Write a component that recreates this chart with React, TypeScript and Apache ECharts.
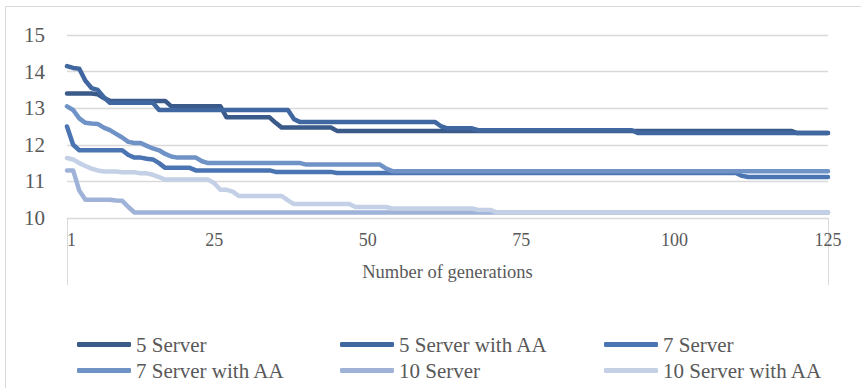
import React, { useEffect, useRef } from "react";
import * as echarts from "echarts";

const categories: string[] = Array.from({ length: 125 }, (_, i) => String(i + 1));
const xTickLabels = ["1", "25", "50", "75", "100", "125"];
const seriesNames = ["5 Server", "5 Server with AA", "7 Server", "7 Server with AA", "10 Server", "10 Server with AA"];
const colors = ["#3a5a89", "#4167a0", "#4a75b2", "#7093c7", "#9fb3d8", "#c3d0e6"];

const s5 = [
  13.4, 13.4, 13.4, 13.4, 13.4, 13.38, 13.28, 13.2, 13.2, 13.2, 13.2, 13.2, 13.2, 13.2, 13.2, 13.2, 13.2, 13.05, 13.05, 13.05, 13.05, 13.05, 13.05, 13.05, 13.05,
  13.05, 12.75, 12.75, 12.75, 12.75, 12.75, 12.75, 12.75, 12.75, 12.6, 12.47, 12.47, 12.47, 12.47, 12.47, 12.47, 12.47, 12.47, 12.47, 12.38, 12.38, 12.38, 12.38, 12.38, 12.38,
  12.38, 12.38, 12.38, 12.38, 12.38, 12.38, 12.38, 12.38, 12.38, 12.38, 12.38, 12.38, 12.38, 12.38, 12.38, 12.38, 12.38, 12.38, 12.38, 12.38, 12.38, 12.38, 12.38, 12.38, 12.38,
  12.38, 12.38, 12.38, 12.38, 12.38, 12.38, 12.38, 12.38, 12.38, 12.38, 12.38, 12.38, 12.38, 12.38, 12.38, 12.38, 12.38, 12.38, 12.38, 12.38, 12.38, 12.38, 12.38, 12.38, 12.38,
  12.38, 12.38, 12.38, 12.38, 12.38, 12.38, 12.38, 12.38, 12.38, 12.38, 12.38, 12.38, 12.38, 12.38, 12.38, 12.38, 12.38, 12.38, 12.38, 12.32, 12.32, 12.32, 12.32, 12.32, 12.32,
];

const s5aa = [
  14.15, 14.1, 14.08, 13.75, 13.55, 13.5, 13.3, 13.15, 13.15, 13.15, 13.15, 13.15, 13.15, 13.15, 13.15, 12.95, 12.95, 12.95, 12.95, 12.95, 12.95, 12.95, 12.95, 12.95, 12.95,
  12.95, 12.95, 12.95, 12.95, 12.95, 12.95, 12.95, 12.95, 12.95, 12.95, 12.95, 12.95, 12.7, 12.62, 12.62, 12.62, 12.62, 12.62, 12.62, 12.62, 12.62, 12.62, 12.62, 12.62, 12.62,
  12.62, 12.62, 12.62, 12.62, 12.62, 12.62, 12.62, 12.62, 12.62, 12.62, 12.62, 12.5, 12.45, 12.45, 12.45, 12.45, 12.45, 12.4, 12.4, 12.4, 12.4, 12.4, 12.4, 12.4, 12.4,
  12.4, 12.4, 12.4, 12.4, 12.4, 12.4, 12.4, 12.4, 12.4, 12.4, 12.4, 12.4, 12.4, 12.4, 12.4, 12.4, 12.4, 12.4, 12.32, 12.32, 12.32, 12.32, 12.32, 12.32, 12.32,
  12.32, 12.32, 12.32, 12.32, 12.32, 12.32, 12.32, 12.32, 12.32, 12.32, 12.32, 12.32, 12.32, 12.32, 12.32, 12.32, 12.32, 12.32, 12.32, 12.32, 12.32, 12.32, 12.32, 12.32, 12.32,
];

const s7 = [
  12.5, 12.0, 11.85, 11.85, 11.85, 11.85, 11.85, 11.85, 11.85, 11.85, 11.72, 11.65, 11.65, 11.62, 11.6, 11.5, 11.37, 11.37, 11.37, 11.37, 11.37, 11.3, 11.3, 11.3, 11.3,
  11.3, 11.3, 11.3, 11.3, 11.3, 11.3, 11.3, 11.3, 11.3, 11.26, 11.26, 11.26, 11.26, 11.26, 11.26, 11.26, 11.26, 11.26, 11.26, 11.23, 11.23, 11.23, 11.23, 11.23, 11.23,
  11.23, 11.23, 11.23, 11.23, 11.23, 11.23, 11.23, 11.23, 11.23, 11.23, 11.23, 11.23, 11.23, 11.23, 11.23, 11.23, 11.23, 11.23, 11.23, 11.23, 11.23, 11.23, 11.23, 11.23, 11.23,
  11.23, 11.23, 11.23, 11.23, 11.23, 11.23, 11.23, 11.23, 11.23, 11.23, 11.23, 11.23, 11.23, 11.23, 11.23, 11.23, 11.23, 11.23, 11.23, 11.23, 11.23, 11.23, 11.23, 11.23, 11.23,
  11.23, 11.23, 11.23, 11.23, 11.23, 11.23, 11.23, 11.23, 11.23, 11.23, 11.15, 11.12, 11.12, 11.12, 11.12, 11.12, 11.12, 11.12, 11.12, 11.12, 11.12, 11.12, 11.12, 11.12, 11.12,
];

const s7aa = [
  13.05, 12.95, 12.72, 12.6, 12.58, 12.57, 12.47, 12.4, 12.3, 12.2, 12.08, 12.05, 12.05, 11.97, 11.9, 11.85, 11.75, 11.68, 11.65, 11.65, 11.65, 11.65, 11.55, 11.5, 11.5,
  11.5, 11.5, 11.5, 11.5, 11.5, 11.5, 11.5, 11.5, 11.5, 11.5, 11.5, 11.5, 11.5, 11.5, 11.46, 11.46, 11.46, 11.46, 11.46, 11.46, 11.46, 11.46, 11.46, 11.46, 11.46,
  11.46, 11.46, 11.35, 11.28, 11.28, 11.28, 11.28, 11.28, 11.28, 11.28, 11.28, 11.28, 11.28, 11.28, 11.28, 11.28, 11.28, 11.28, 11.28, 11.28, 11.28, 11.28, 11.28, 11.28, 11.28,
  11.28, 11.28, 11.28, 11.28, 11.28, 11.28, 11.28, 11.28, 11.28, 11.28, 11.28, 11.28, 11.28, 11.28, 11.28, 11.28, 11.28, 11.28, 11.28, 11.28, 11.28, 11.28, 11.28, 11.28, 11.28,
  11.28, 11.28, 11.28, 11.28, 11.28, 11.28, 11.28, 11.28, 11.28, 11.28, 11.28, 11.28, 11.28, 11.28, 11.28, 11.28, 11.28, 11.28, 11.28, 11.28, 11.28, 11.28, 11.28, 11.28, 11.28,
];

const s10 = [
  11.3, 11.3, 10.75, 10.5, 10.5, 10.5, 10.5, 10.5, 10.48, 10.47, 10.3, 10.15, 10.15, 10.15, 10.15, 10.15, 10.15, 10.15, 10.15, 10.15, 10.15, 10.15, 10.15, 10.15, 10.15,
  10.15, 10.15, 10.15, 10.15, 10.15, 10.15, 10.15, 10.15, 10.15, 10.15, 10.15, 10.15, 10.15, 10.15, 10.15, 10.15, 10.15, 10.15, 10.15, 10.15, 10.15, 10.15, 10.15, 10.15, 10.15,
  10.15, 10.15, 10.15, 10.15, 10.15, 10.15, 10.15, 10.15, 10.15, 10.15, 10.15, 10.15, 10.15, 10.15, 10.15, 10.15, 10.15, 10.15, 10.15, 10.15, 10.15, 10.15, 10.15, 10.15, 10.15,
  10.15, 10.15, 10.15, 10.15, 10.15, 10.15, 10.15, 10.15, 10.15, 10.15, 10.15, 10.15, 10.15, 10.15, 10.15, 10.15, 10.15, 10.15, 10.15, 10.15, 10.15, 10.15, 10.15, 10.15, 10.15,
  10.15, 10.15, 10.15, 10.15, 10.15, 10.15, 10.15, 10.15, 10.15, 10.15, 10.15, 10.15, 10.15, 10.15, 10.15, 10.15, 10.15, 10.15, 10.15, 10.15, 10.15, 10.15, 10.15, 10.15, 10.15,
];

const s10aa = [
  11.64, 11.6, 11.5, 11.42, 11.35, 11.3, 11.27, 11.27, 11.27, 11.25, 11.25, 11.25, 11.22, 11.22, 11.18, 11.12, 11.05, 11.05, 11.05, 11.05, 11.05, 11.05, 11.05, 11.05, 10.95,
  10.77, 10.77, 10.72, 10.6, 10.6, 10.6, 10.6, 10.6, 10.6, 10.6, 10.6, 10.48, 10.38, 10.38, 10.38, 10.38, 10.38, 10.38, 10.38, 10.38, 10.38, 10.38, 10.3, 10.3, 10.3,
  10.3, 10.3, 10.3, 10.26, 10.26, 10.26, 10.26, 10.26, 10.26, 10.26, 10.26, 10.26, 10.26, 10.26, 10.26, 10.26, 10.26, 10.22, 10.22, 10.22, 10.15, 10.15, 10.15, 10.15, 10.15,
  10.15, 10.15, 10.15, 10.15, 10.15, 10.15, 10.15, 10.15, 10.15, 10.15, 10.15, 10.15, 10.15, 10.15, 10.15, 10.15, 10.15, 10.15, 10.15, 10.15, 10.15, 10.15, 10.15, 10.15, 10.15,
  10.15, 10.15, 10.15, 10.15, 10.15, 10.15, 10.15, 10.15, 10.15, 10.15, 10.15, 10.15, 10.15, 10.15, 10.15, 10.15, 10.15, 10.15, 10.15, 10.15, 10.15, 10.15, 10.15, 10.15, 10.15,
];

const seriesData = [s5, s5aa, s7, s7aa, s10, s10aa];

// legend layout: [left, top] per item
const legendPos: [number, number][] = [
  [77, 334], [340, 334], [604, 334],
  [77, 360], [340, 360], [604, 360],
];

export default function App() {
  const ref = useRef<HTMLDivElement>(null);
  useEffect(() => {
    if (!ref.current) return;
    const chart = echarts.init(ref.current, null, { renderer: "svg" });
    const font = "'Liberation Serif', 'Times New Roman', serif";
    const textColor = "#595959";
    const option: any = {
      animation: false,
      textStyle: { fontFamily: font },
      graphic: [
        {
          type: "rect",
          silent: true,
          shape: { x: 5.5, y: 6.5, width: 900, height: 420 },
          style: { fill: "none", stroke: "#d9d9d9", lineWidth: 1 },
        },
      ],
      grid: { left: 67, right: 33, top: 35, bottom: 170, containLabel: false },
      xAxis: {
        type: "category",
        data: categories,
        boundaryGap: false,
        axisLine: { show: true, lineStyle: { color: "#d9d9d9", width: 1 } },
        axisTick: {
          show: true,
          length: 67,
          interval: (i: number) => i === 0 || i === categories.length - 1,
          lineStyle: { color: "#d9d9d9", width: 1 },
        },
        axisLabel: {
          interval: (_i: number, v: string) => xTickLabels.includes(v),
          color: textColor,
          fontSize: 18,
          fontFamily: font,
          margin: 13,
          alignMinLabel: "left",
        },
        splitLine: { show: false },
        name: "Number of generations",
        nameLocation: "middle",
        nameGap: 44,
        nameTextStyle: { color: textColor, fontSize: 18.5, fontFamily: font },
      },
      yAxis: {
        type: "value",
        min: 10,
        max: 15,
        interval: 1,
        axisLine: { show: false },
        axisTick: { show: false },
        splitLine: { lineStyle: { color: "#d9d9d9", width: 1.3 } },
        axisLabel: { color: textColor, fontSize: 21, fontFamily: font, margin: 22 },
      },
      legend: seriesNames.map((name, i) => ({
        data: [name],
        left: legendPos[i][0],
        top: legendPos[i][1],
        padding: 0,
        icon: "roundRect",
        itemWidth: 54,
        itemHeight: 5,
        itemGap: 5,
        selectedMode: false,
        textStyle: { color: textColor, fontSize: 21, fontFamily: font, padding: [0, 0, 0, 0] },
      })),
      series: seriesNames.map((name, i) => ({
        name,
        type: "line",
        data: seriesData[i],
        symbol: "none",
        showSymbol: false,
        color: colors[i],
        lineStyle: { color: colors[i], width: 4.5, cap: "round", join: "round" },
        itemStyle: { color: colors[i] },
      })),
    };
    chart.setOption(option);
    return () => chart.dispose();
  }, []);
  return (
    <div
      ref={ref}
      style={{ position: "absolute", left: 0, top: 0, width: 861, height: 388, background: "#ffffff" }}
    />
  );
}
